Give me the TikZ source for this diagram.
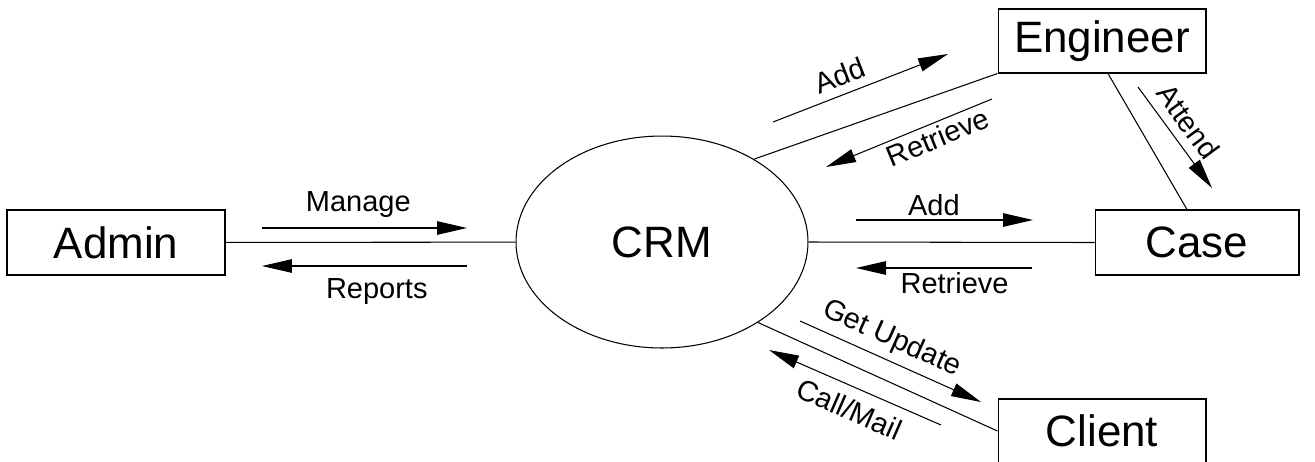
\documentclass[tikz,border=0pt]{standalone}
\usepackage{fontspec}
\setmainfont{Liberation Sans}
\usepackage{tikz}
\usetikzlibrary{positioning,arrows.meta,shapes.geometric}

\tikzset{
  entity/.style={draw, line width=0.6pt, minimum height=1.3cm, inner sep=0pt,
    font=\fontsize{25}{30}\selectfont},
  flow/.style={-{Triangle[length=0.6cm, width=0.27cm]}, line width=0.6pt},
  lbl/.style={font=\fontsize{16.5}{20}\selectfont, inner sep=2pt},
  link/.style={line width=0.6pt}
}

\begin{document}
\begin{tikzpicture}[x=0.02cm, y=-0.02cm]
\useasboundingbox (0,0) rectangle (1315,461);

\node[draw, ellipse, line width=0.6pt, minimum width=5.84cm, minimum height=4.24cm,
  inner sep=0pt, font=\fontsize{25}{30}\selectfont] (crm) at (662,242) {CRM};

\node[entity, minimum width=4.36cm] (admin) at (116,242.5) {Admin};
\node[entity, minimum width=4.16cm, minimum height=1.28cm] (eng) at (1102,41) {Engineer};
\node[entity, minimum width=4.08cm] (case) at (1197,242.5) {Case};
\node[entity, minimum width=4.16cm, minimum height=1.28cm] (client) at (1102,431) {Client};

% connections
\draw[link] (admin) -- (crm);
\draw[link] (crm.east) -- (case.west);
\draw[link] (crm.42) -- (eng.south west);
\draw[link] (crm.-40) -- (client.west);
\draw[link] ([xshift=0.12cm]eng.south) -- ([xshift=-0.2cm]case.north);

% data flows
\coordinate (mg1) at (262,228);  \coordinate (mg2) at (467,228);
\coordinate (rp1) at (467,266);  \coordinate (rp2) at (262,266);
\coordinate (ea1) at (773,122);  \coordinate (ea2) at (948,54);
\coordinate (er1) at (992,99);   \coordinate (er2) at (826,167);
\coordinate (at1) at (1138,87);  \coordinate (at2) at (1212,188);
\coordinate (ca1) at (856,220);  \coordinate (ca2) at (1033,220);
\coordinate (cr1) at (1032,268); \coordinate (cr2) at (856,268);
\coordinate (gu1) at (800,321);  \coordinate (gu2) at (981,402);
\coordinate (cm1) at (941,425);  \coordinate (cm2) at (769,350);

\draw[flow] (mg1) -- (mg2) node[pos=0.47, above=3.4pt, lbl] {Manage};
\draw[flow] (rp1) -- (rp2) node[pos=0.44, below=5pt, lbl] {Reports};
\draw[flow] (ea1) -- (ea2) node[pos=0.42, above=2.5pt, sloped, lbl] {Add};
\draw[flow] (er1) -- (er2) node[pos=0.36, below, sloped, lbl] {Retrieve};
\draw[flow] (at1) -- (at2) node[pos=0.46, above=3pt, sloped, lbl] {Attend};
\draw[flow] (ca1) -- (ca2) node[pos=0.44, above, lbl] {Add};
\draw[flow] (cr1) -- (cr2) node[pos=0.44, below, lbl] {Retrieve};
\draw[flow] (gu1) -- (gu2) node[pos=0.46, above=2pt, sloped, lbl] {Get Update};
\draw[flow] (cm1) -- (cm2) node[pos=0.48, below=4pt, sloped, lbl] {Call/Mail};

\end{tikzpicture}
\end{document}
